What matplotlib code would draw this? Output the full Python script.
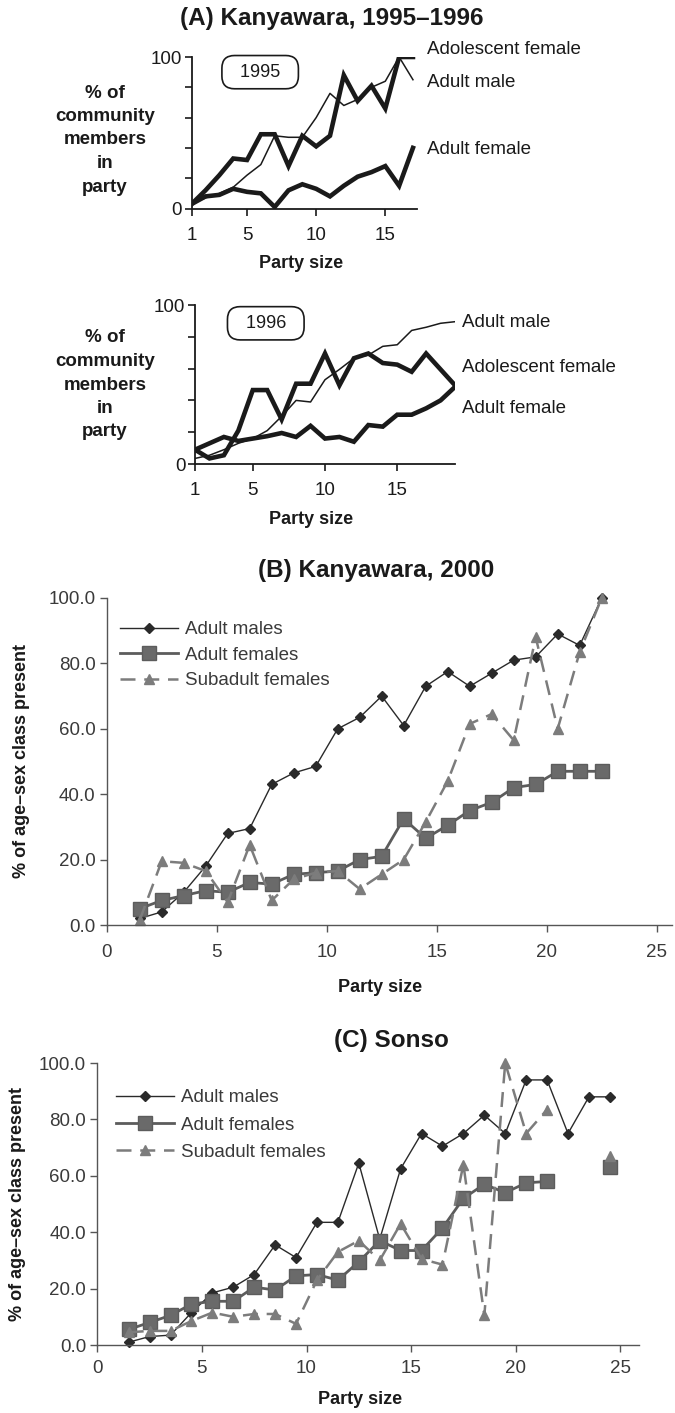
import numpy as np
import matplotlib
matplotlib.use("Agg")
import matplotlib.pyplot as plt
from matplotlib.ticker import FormatStrFormatter

nan = np.nan

# ---------------- data ----------------
# (A) Kanyawara 1995
party_1995 = list(range(1, 18))
adolescent_female_1995 = [3, 12, 22, 33, 32, 49, 49, 28, 48, 41, 48, 88, 71, 81, 66, 100, 100]
adult_male_1995 = [3, 7, 10, 14, 22, 29, 48, 47, 47, 60, 76, 68, 72, 80, 84, 100, 85]
adult_female_1995 = [3, 8, 9, 13, 11, 10, 1, 12, 16, 13, 8, 15, 21, 24, 28, 15, 40]

# (A) Kanyawara 1996
party_1996 = list(range(1, 20))
adult_male_1996 = [3.5, 5.5, 9, 13, 16, 21, 30, 40, 39, 53, 59.5, 66.5, 68.5, 74, 75, 84, 86, 88.5, 89.5]
adolescent_female_1996 = [9, 3.5, 5.5, 21, 46.5, 46.5, 28, 50.5, 50.5, 69.5, 49.5, 66.5, 69.5, 63.5,
                          62.5, 58, 69.5, 59.5, 49.5]
adult_female_1996 = [9, 13, 17, 14.5, 16, 17.5, 19.5, 17, 24, 16, 17, 14, 24.5, 23.5, 31, 31, 35, 40, 48.5]

# (B) Kanyawara 2000
party_b = [1.5 + i for i in range(22)]
b_adult_males = [2, 4, 10, 18, 28, 29.5, 43, 46.5, 48.5, 60, 63.5, 70, 61, 73, 77.5, 73, 77, 81, 82,
                 89, 85.5, 100]
b_adult_females = [5, 7.5, 9, 10.5, 10, 13, 12.5, 15.5, 16, 16.5, 20, 21, 32.5, 26.5, 30.5, 35, 37.5,
                   42, 43, 47, 47, 47]
b_subadult_females = [1.5, 19.5, 19, 16.5, 7, 24.5, 7.5, 14, 16, 16.5, 11, 15.5, 20, 31.5, 44, 61.5,
                      64.5, 56.5, 88, 60, 83.5, 100]

# (C) Sonso
party_c = [1.5 + i for i in range(24)]
c_adult_males = [1, 3, 3.5, 11.5, 18.5, 20.5, 25, 35.5, 31, 43.5, 43.5, 64.5, 37.5, 62.5, 75, 70.5,
                 75, 81.5, 75, 94, 94, 75, 88, 88]
c_adult_females = [5.5, 8, 10.5, 14.5, 15.5, 15.5, 20.5, 19.5, 24.5, 25, 23, 29.5, 37, 33.5, 33.5,
                   41.5, 52, 57, 54, 57.5, 58, nan, nan, 63]
c_subadult_females = [4.5, 5, 5, 8.5, 11.5, 10, 11, 11, 7.5, 23, 33, 37, 30, 43, 30.5, 28.5, 64,
                      10.5, 100, 75, 83.5, nan, nan, 67]

# ---------------- style ----------------
NARROW = ['Liberation Sans Narrow', 'Liberation Sans', 'DejaVu Sans']
BOLD = ['Liberation Sans', 'DejaVu Sans']
plt.rcParams['font.family'] = NARROW

W, H = 675, 1413
fig = plt.figure(figsize=(W / 100, H / 100), dpi=100)
fig.patch.set_facecolor('white')


def fx(px):
    return px / W


def fy(py):
    return 1 - py / H


def add_ax(left, right, top, bottom):
    return fig.add_axes([fx(left), fy(bottom), fx(right) - fx(left), fy(top) - fy(bottom)])


INK = '#1a1a1a'
THICK = 3.3
THIN = 1.1

# ---------------- (A) ----------------
fig.text(fx(332), fy(19), '(A) Kanyawara, 1995\u20131996', ha='center', va='center',
         fontsize=17.5, fontweight='bold', family=BOLD, color=INK)

ax1 = add_ax(191.7, 416.7, 57, 208.5)
ax1.plot(party_1995, adult_female_1995, color=INK, lw=THICK, solid_joinstyle='miter')
ax1.plot(party_1995, adolescent_female_1995, color=INK, lw=THICK, solid_joinstyle='miter')
ax1.plot(party_1995, adult_male_1995, color=INK, lw=THIN)
ax1.set_xlim(1, 17.27)
ax1.set_ylim(0, 100)

ax2 = add_ax(195, 455, 305, 464)
ax2.plot(party_1996, adult_female_1996, color=INK, lw=THICK, solid_joinstyle='miter')
ax2.plot(party_1996, adolescent_female_1996, color=INK, lw=THICK, solid_joinstyle='miter')
ax2.plot(party_1996, adult_male_1996, color=INK, lw=THIN)
ax2.set_xlim(1, 19)
ax2.set_ylim(0, 100)

for ax, yr, boxpos, labels in [
    (ax1, '1995', (5.95, 90), [('Adolescent female', 18.05, 105), ('Adult male', 18.05, 83),
                               ('Adult female', 18.05, 39)]),
    (ax2, '1996', (5.9, 88.5), [('Adult male', 19.5, 89), ('Adolescent female', 19.5, 61),
                                ('Adult female', 19.5, 35)]),
]:
    for s in ['top', 'right']:
        ax.spines[s].set_visible(False)
    for s in ['left', 'bottom']:
        ax.spines[s].set_color(INK)
        ax.spines[s].set_linewidth(1.3)
    ax.set_yticks([0, 20, 40, 60, 80, 100])
    ax.set_yticklabels(['0', '', '', '', '', '100'])
    ax.set_xticks([1, 5, 10, 15])
    ax.tick_params(axis='both', direction='out', length=5, width=1.2, color=INK,
                   labelsize=13.5, labelcolor=INK, pad=2)
    ax.tick_params(axis='x', pad=8)
    ax.text(boxpos[0], boxpos[1], '  ' + yr + '  ', ha='center', va='center', fontsize=13,
            color=INK, bbox=dict(boxstyle='round,pad=0.45,rounding_size=0.7', fc='white',
                                 ec=INK, lw=1.2))
    for txt, x, y in labels:
        ax.text(x, y, txt, ha='left', va='center', fontsize=13.5, color=INK, clip_on=False)
    ax.set_facecolor('none')

fig.text(fx(301), fy(263), 'Party size', ha='center', va='center', fontsize=13,
         fontweight='bold', family=BOLD, color=INK)
fig.text(fx(311), fy(520), 'Party size', ha='center', va='center', fontsize=13,
         fontweight='bold', family=BOLD, color=INK)
fig.text(fx(105), fy(140), '% of\ncommunity\nmembers\nin\nparty', ha='center', va='center',
         fontsize=13.5, fontweight='bold', family=BOLD, color=INK, linespacing=1.5)
fig.text(fx(105), fy(385), '% of\ncommunity\nmembers\nin\nparty', ha='center', va='center',
         fontsize=13.5, fontweight='bold', family=BOLD, color=INK, linespacing=1.5)

# ---------------- (B) and (C) ----------------
MALE_C = '#2a2a2a'
FEM_C = '#5c5c5c'
SUB_C = '#7c7c7c'
AXC = '#555555'


def excel_panel(ax, x, males, females, subs, xmax, leg_anchor, spacing, xpad):
    ax.plot(x, males, color=MALE_C, lw=1.0, marker='D', ms=4.6, mfc=MALE_C, mec=MALE_C,
            label='Adult males')
    ax.plot(x, females, color=FEM_C, lw=2.0, marker='s', ms=9.5, mfc='#6a6a6a', mec=FEM_C,
            label='Adult females')
    ax.plot(x, subs, color=SUB_C, lw=1.8, ls=(0, (6, 3.5)), marker='^', ms=6.5, mfc=SUB_C,
            mec=SUB_C, label='Subadult females')
    ax.set_xlim(0, xmax)
    ax.set_ylim(0, 100)
    ax.set_xticks([0, 5, 10, 15, 20, 25])
    ax.set_yticks([0, 20, 40, 60, 80, 100])
    ax.yaxis.set_major_formatter(FormatStrFormatter('%.1f'))
    for s in ['top', 'right']:
        ax.spines[s].set_visible(False)
    for s in ['left', 'bottom']:
        ax.spines[s].set_color(AXC)
        ax.spines[s].set_linewidth(1.0)
    ax.tick_params(axis='both', direction='out', length=5, width=1.0, color=AXC,
                   labelsize=13.5, labelcolor='#3a3a3a', pad=3)
    ax.tick_params(axis='x', pad=xpad)
    ax.set_facecolor('none')
    for line in ax.get_lines():
        line.set_clip_on(False)
    leg = ax.legend(loc='upper left', bbox_to_anchor=leg_anchor, bbox_transform=fig.transFigure,
                    frameon=False, fontsize=13.5, handlelength=3.1, handletextpad=0.35,
                    labelspacing=spacing, borderpad=0, borderaxespad=0)
    for t in leg.get_texts():
        t.set_color('#3a3a3a')


axB = add_ax(106.7, 106.7 + 25.7 * 22.0, 598, 925)
excel_panel(axB, party_b, b_adult_males, b_adult_females, b_subadult_females, 25.7,
            (fx(120), fy(621)), 0.45, 9)
fig.text(fx(376), fy(571), '(B) Kanyawara, 2000', ha='center', va='center', fontsize=17.5,
         fontweight='bold', family=BOLD, color=INK)
fig.text(fx(380), fy(988), 'Party size', ha='center', va='center', fontsize=13,
         fontweight='bold', family=BOLD, color=INK)
fig.text(fx(22), (fy(598) + fy(925)) / 2, '% of age\u2013sex class present', ha='center',
         va='center', rotation=90, fontsize=13, fontweight='bold', family=BOLD, color=INK)

axC = add_ax(97.3, 97.3 + 25.9 * 20.92, 1063, 1345)
excel_panel(axC, party_c, c_adult_males, c_adult_females, c_subadult_females, 25.9,
            (fx(116), fy(1089)), 0.55, 6)
fig.text(fx(391), fy(1040), '(C) Sonso', ha='center', va='center', fontsize=17.5,
         fontweight='bold', family=BOLD, color=INK)
fig.text(fx(360), fy(1400), 'Party size', ha='center', va='center', fontsize=13,
         fontweight='bold', family=BOLD, color=INK)
fig.text(fx(18), (fy(1063) + fy(1345)) / 2, '% of age\u2013sex class present', ha='center',
         va='center', rotation=90, fontsize=13, fontweight='bold', family=BOLD, color=INK)

fig.savefig('out.png', dpi=100, facecolor='white')
